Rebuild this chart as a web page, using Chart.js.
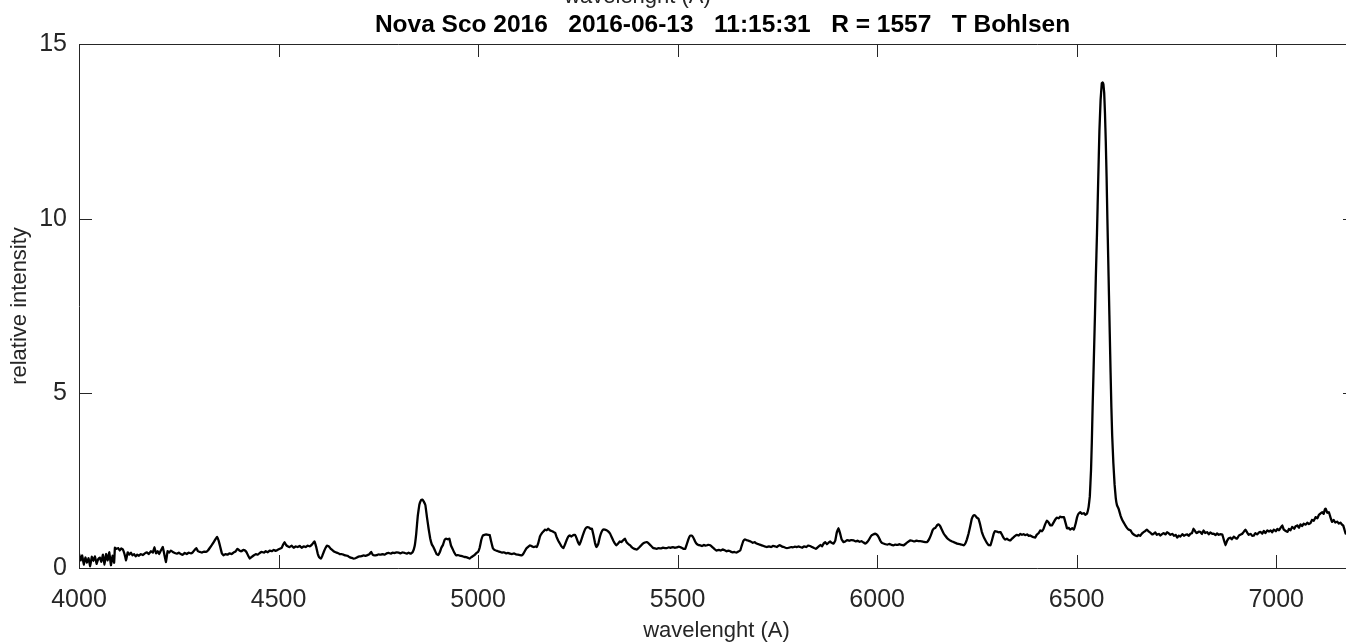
<!DOCTYPE html>
<html lang="en">
<head>
<meta charset="UTF-8">
<title>Nova Sco 2016 spectrum</title>
<script src="https://cdn.jsdelivr.net/npm/chart.js@4"></script>
<style>
  html, body { margin: 0; padding: 0; background: #fff; overflow: hidden; }
  #wrap { position: relative; width: 1346px; height: 643px; overflow: hidden; }
  canvas { position: absolute; left: 0; top: 0; }
</style>
</head>
<body>
<div id="wrap"><canvas id="spectrum" width="1360" height="643"></canvas></div>
<script>
// wavelength in Angstrom, intensity relative to continuum
const wavelength = [
  4000, 4004, 4008, 4012, 4016, 4020, 4024, 4028, 4032, 4036, 4040, 4044, 4048, 4052, 4056, 4060, 4064, 4068, 4072, 4076, 4080, 4084, 4088,
  4090, 4094, 4098, 4102, 4106, 4110, 4114, 4118, 4122, 4126, 4130, 4134, 4138, 4142, 4146, 4150, 4155, 4160, 4165, 4170, 4175, 4180, 4185,
  4189, 4193, 4197, 4201, 4205, 4210, 4214, 4218, 4222, 4226, 4230, 4235, 4240, 4245, 4250, 4255, 4260, 4265, 4270, 4275, 4280, 4285, 4290,
  4294, 4298, 4303, 4308, 4313, 4318, 4323, 4328, 4333, 4338, 4343, 4346, 4350, 4354, 4358, 4362, 4367, 4372, 4377, 4382, 4387, 4392, 4397,
  4402, 4407, 4412, 4416, 4420, 4424, 4428, 4433, 4438, 4443, 4448, 4453, 4458, 4463, 4468, 4473, 4478, 4483, 4488, 4493, 4498, 4503, 4508,
  4512, 4515, 4519, 4523, 4528, 4533, 4538, 4543, 4548, 4553, 4558, 4563, 4568, 4573, 4578, 4583, 4587, 4590, 4594, 4598, 4602, 4606, 4610,
  4614, 4618, 4622, 4626, 4630, 4634, 4638, 4643, 4648, 4653, 4658, 4663, 4668, 4673, 4678, 4683, 4688, 4693, 4698, 4703, 4708, 4713, 4718,
  4723, 4728, 4732, 4736, 4741, 4746, 4751, 4756, 4761, 4766, 4771, 4776, 4781, 4786, 4791, 4796, 4801, 4806, 4811, 4816, 4821, 4826, 4831,
  4836, 4841, 4845, 4849, 4853, 4857, 4860, 4864, 4868, 4872, 4876, 4880, 4884, 4888, 4892, 4896, 4900, 4904, 4908, 4912, 4916, 4920, 4924,
  4928, 4932, 4936, 4940, 4945, 4950, 4955, 4960, 4965, 4970, 4975, 4979, 4983, 4987, 4991, 4995, 5000, 5004, 5008, 5012, 5016, 5020, 5025,
  5029, 5033, 5037, 5041, 5045, 5050, 5055, 5060, 5065, 5070, 5075, 5080, 5085, 5090, 5095, 5100, 5105, 5109, 5113, 5117, 5121, 5125, 5130,
  5135, 5140, 5144, 5147, 5151, 5155, 5160, 5164, 5168, 5172, 5176, 5180, 5184, 5188, 5193, 5197, 5201, 5205, 5209, 5214, 5218, 5222, 5226,
  5230, 5234, 5238, 5243, 5247, 5251, 5254, 5258, 5262, 5266, 5270, 5274, 5278, 5282, 5285, 5289, 5293, 5297, 5301, 5305, 5309, 5313, 5318,
  5322, 5326, 5331, 5335, 5339, 5343, 5347, 5351, 5355, 5359, 5364, 5368, 5372, 5377, 5381, 5385, 5390, 5394, 5398, 5403, 5408, 5413, 5418,
  5423, 5428, 5433, 5438, 5443, 5448, 5453, 5458, 5463, 5468, 5473, 5478, 5483, 5488, 5493, 5498, 5503, 5506, 5510, 5515, 5519, 5523, 5527,
  5531, 5535, 5539, 5543, 5547, 5552, 5556, 5561, 5566, 5571, 5576, 5582, 5587, 5592, 5598, 5603, 5608, 5613, 5618, 5623, 5628, 5633, 5638,
  5642, 5647, 5652, 5657, 5661, 5665, 5669, 5673, 5678, 5683, 5688, 5693, 5698, 5703, 5708, 5713, 5718, 5724, 5729, 5734, 5739, 5744, 5749,
  5753, 5757, 5761, 5766, 5770, 5774, 5779, 5784, 5789, 5794, 5799, 5803, 5807, 5812, 5817, 5822, 5827, 5832, 5837, 5842, 5846, 5850, 5854,
  5858, 5862, 5866, 5870, 5874, 5878, 5882, 5886, 5891, 5895, 5899, 5903, 5907, 5911, 5916, 5920, 5925, 5930, 5935, 5941, 5946, 5951, 5956,
  5961, 5966, 5970, 5975, 5980, 5985, 5990, 5995, 6000, 6004, 6008, 6012, 6016, 6021, 6026, 6031, 6036, 6041, 6046, 6051, 6056, 6061, 6066,
  6070, 6074, 6079, 6083, 6088, 6093, 6098, 6103, 6108, 6112, 6117, 6121, 6125, 6130, 6135, 6139, 6142, 6146, 6150, 6154, 6158, 6162, 6167,
  6171, 6175, 6179, 6183, 6188, 6192, 6196, 6200, 6204, 6208, 6212, 6217, 6221, 6225, 6229, 6233, 6237, 6240, 6242, 6246, 6250, 6254, 6258,
  6262, 6267, 6271, 6275, 6279, 6284, 6288, 6292, 6296, 6300, 6305, 6309, 6313, 6317, 6321, 6325, 6330, 6334, 6338, 6342, 6346, 6350, 6355,
  6359, 6363, 6367, 6372, 6376, 6380, 6384, 6388, 6392, 6396, 6400, 6405, 6409, 6413, 6417, 6421, 6426, 6430, 6434, 6438, 6442, 6446, 6451,
  6455, 6459, 6463, 6468, 6472, 6476, 6480, 6484, 6489, 6493, 6497, 6501, 6505, 6509, 6513, 6518, 6522, 6526, 6530, 6533, 6536, 6538, 6540,
  6542, 6544, 6546, 6548, 6551, 6554, 6557, 6560, 6563, 6565, 6567, 6569, 6571, 6573, 6575, 6577, 6579, 6581, 6583, 6585, 6587, 6589, 6592,
  6595, 6598,
  6601, 6605, 6610, 6614, 6618, 6622, 6626, 6630, 6635, 6639, 6643, 6647, 6651, 6655, 6659, 6663, 6667, 6672, 6676, 6680, 6684, 6689, 6693,
  6697, 6701, 6706, 6710, 6714, 6718, 6723, 6727, 6731, 6735, 6740, 6744, 6748, 6752, 6756, 6760, 6765, 6769, 6773, 6777, 6781, 6785, 6789,
  6793, 6797, 6801, 6806, 6810, 6814, 6818, 6822, 6827, 6831, 6835, 6839, 6844, 6848, 6852, 6856, 6861, 6865, 6869, 6873, 6877, 6881, 6885,
  6889, 6894, 6898, 6902, 6906, 6910, 6915, 6919, 6923, 6927, 6931, 6936, 6940, 6944, 6948, 6952, 6957, 6961, 6965, 6969, 6973, 6978, 6982,
  6986, 6990, 6994, 6999, 7003, 7007, 7011, 7015, 7019, 7024, 7028, 7032, 7036, 7040, 7045, 7049, 7053, 7057, 7061, 7065, 7069, 7074, 7078,
  7082, 7086, 7090, 7094, 7099, 7103, 7107, 7111, 7115, 7119, 7122, 7124, 7128, 7132, 7136, 7140, 7144, 7148, 7153, 7157, 7161, 7165, 7168,
  7171, 7174, 7178, 7182, 7186, 7190, 7195, 7200
];
const intensity = [
  0.41, 0.22, 0.36, 0.10, 0.30, 0.15, 0.28, 0.05, 0.32, 0.20, 0.33, 0.12, 0.25, 0.30, 0.18, 0.38, 0.10, 0.40, 0.22, 0.45, 0.08, 0.35, 0.15,
  0.58, 0.55, 0.57, 0.50, 0.56, 0.53, 0.40, 0.22, 0.45, 0.38, 0.44, 0.36, 0.40, 0.33, 0.38, 0.35, 0.40, 0.37, 0.42, 0.45, 0.40, 0.48, 0.44,
  0.60, 0.42, 0.48, 0.40, 0.50, 0.60, 0.38, 0.17, 0.48, 0.44, 0.50, 0.46, 0.43, 0.41, 0.44, 0.40, 0.38, 0.43, 0.40, 0.44, 0.42, 0.45, 0.52,
  0.57, 0.48, 0.46, 0.44, 0.47, 0.46, 0.50, 0.58, 0.66, 0.75, 0.84, 0.89, 0.78, 0.60, 0.42, 0.36, 0.40, 0.38, 0.42, 0.40, 0.44, 0.47, 0.55,
  0.50, 0.48, 0.52, 0.50, 0.45, 0.35, 0.27, 0.32, 0.36, 0.40, 0.38, 0.43, 0.46, 0.44, 0.48, 0.45, 0.50, 0.48, 0.52, 0.49, 0.52, 0.55, 0.58,
  0.68, 0.74, 0.66, 0.62, 0.60, 0.64, 0.58, 0.62, 0.60, 0.63, 0.58, 0.62, 0.60, 0.64, 0.62, 0.66, 0.72, 0.76, 0.62, 0.42, 0.30, 0.27, 0.36,
  0.48, 0.58, 0.64, 0.62, 0.56, 0.52, 0.48, 0.45, 0.43, 0.40, 0.40, 0.38, 0.36, 0.35, 0.31, 0.29, 0.27, 0.28, 0.31, 0.33, 0.34, 0.36, 0.35,
  0.37, 0.40, 0.46, 0.38, 0.36, 0.37, 0.39, 0.38, 0.40, 0.38, 0.42, 0.43, 0.41, 0.44, 0.43, 0.45, 0.44, 0.42, 0.45, 0.43, 0.41, 0.44, 0.41,
  0.45, 0.62, 0.98, 1.50, 1.82, 1.94, 1.96, 1.90, 1.80, 1.45, 1.13, 0.85, 0.68, 0.60, 0.50, 0.40, 0.37, 0.45, 0.58, 0.66, 0.80, 0.84, 0.82,
  0.84, 0.65, 0.55, 0.45, 0.36, 0.37, 0.35, 0.34, 0.32, 0.31, 0.29, 0.27, 0.31, 0.34, 0.37, 0.42, 0.46, 0.58, 0.80, 0.93, 0.95, 0.96, 0.95,
  0.95, 0.75, 0.57, 0.52, 0.50, 0.48, 0.46, 0.44, 0.45, 0.42, 0.43, 0.41, 0.40, 0.42, 0.39, 0.38, 0.37, 0.36, 0.40, 0.48, 0.56, 0.60, 0.65,
  0.62, 0.60, 0.62, 0.60, 0.72, 0.90, 1.00, 1.05, 1.10, 1.08, 1.13, 1.08, 1.06, 1.04, 1.01, 0.88, 0.78, 0.70, 0.62, 0.57, 0.68, 0.80, 0.90,
  0.93, 0.90, 0.94, 0.95, 0.85, 0.72, 0.67, 0.78, 0.92, 1.05, 1.14, 1.17, 1.16, 1.12, 1.13, 0.95, 0.72, 0.60, 0.68, 0.88, 1.02, 1.10, 1.10,
  1.08, 1.05, 0.98, 0.88, 0.78, 0.70, 0.65, 0.70, 0.76, 0.74, 0.80, 0.84, 0.74, 0.68, 0.65, 0.60, 0.56, 0.54, 0.53, 0.58, 0.64, 0.70, 0.73,
  0.74, 0.70, 0.64, 0.58, 0.56, 0.55, 0.57, 0.56, 0.58, 0.57, 0.57, 0.59, 0.58, 0.60, 0.58, 0.59, 0.61, 0.60, 0.58, 0.55, 0.55, 0.68, 0.82,
  0.92, 0.93, 0.88, 0.78, 0.70, 0.66, 0.65, 0.63, 0.66, 0.64, 0.66, 0.65, 0.60, 0.55, 0.50, 0.52, 0.50, 0.53, 0.51, 0.48, 0.50, 0.47, 0.45,
  0.46, 0.44, 0.47, 0.50, 0.65, 0.78, 0.82, 0.80, 0.78, 0.76, 0.72, 0.74, 0.70, 0.68, 0.66, 0.64, 0.62, 0.60, 0.62, 0.60, 0.63, 0.62, 0.60,
  0.64, 0.65, 0.62, 0.60, 0.58, 0.57, 0.58, 0.60, 0.59, 0.61, 0.60, 0.62, 0.60, 0.58, 0.62, 0.60, 0.64, 0.63, 0.60, 0.57, 0.55, 0.58, 0.62,
  0.66, 0.62, 0.70, 0.74, 0.68, 0.72, 0.76, 0.72, 0.70, 0.78, 1.02, 1.14, 1.00, 0.82, 0.74, 0.76, 0.80, 0.78, 0.80, 0.79, 0.76, 0.78, 0.75,
  0.77, 0.73, 0.70, 0.74, 0.82, 0.92, 0.96, 0.98, 0.95, 0.88, 0.78, 0.72, 0.70, 0.68, 0.67, 0.69, 0.66, 0.65, 0.67, 0.66, 0.68, 0.66, 0.65,
  0.68, 0.72, 0.76, 0.79, 0.78, 0.76, 0.78, 0.77, 0.77, 0.76, 0.75, 0.74, 0.74, 0.82, 0.95, 1.08, 1.13, 1.15, 1.22, 1.25, 1.20, 1.10, 0.98,
  0.92, 0.86, 0.82, 0.79, 0.76, 0.74, 0.72, 0.70, 0.69, 0.68, 0.67, 0.65, 0.70, 0.82, 0.98, 1.18, 1.40, 1.48, 1.51, 1.50, 1.44, 1.41, 1.25,
  1.05, 0.89, 0.80, 0.72, 0.66, 0.65, 0.80, 0.98, 1.06, 1.04, 1.02, 1.03, 0.95, 0.86, 0.81, 0.84, 0.80, 0.79, 0.84, 0.88, 0.92, 0.95, 0.93,
  0.98, 0.95, 0.97, 0.94, 0.96, 0.92, 0.93, 0.90, 0.88, 0.87, 0.95, 1.00, 1.08, 1.05, 1.12, 1.25, 1.36, 1.30, 1.22, 1.22, 1.30, 1.38, 1.44,
  1.42, 1.47, 1.45, 1.46, 1.30, 1.13, 1.15, 1.10, 1.14, 1.10, 1.25, 1.45, 1.56, 1.60, 1.55, 1.57, 1.52, 1.56, 1.75, 2.05, 2.80, 3.60, 4.60,
  5.50, 6.40, 7.30, 8.30, 9.60, 11.10, 12.50, 13.40, 13.88, 13.90, 13.85, 13.60, 13.00, 12.20, 11.20, 10.00, 8.90, 7.80, 6.70, 5.60, 4.60, 3.80, 3.00,
  2.40, 2.00,
  1.80, 1.70, 1.50, 1.38, 1.30, 1.22, 1.15, 1.10, 1.08, 1.00, 0.96, 0.93, 0.91, 0.95, 0.92, 0.98, 1.02, 1.06, 1.10, 1.05, 1.02, 0.96, 0.98,
  1.02, 0.95, 0.98, 0.93, 0.97, 1.00, 0.96, 1.03, 0.99, 0.95, 0.98, 0.92, 0.95, 0.87, 0.93, 0.90, 0.97, 0.92, 0.95, 0.96, 0.92, 0.98, 1.00,
  1.13, 1.05, 1.00, 1.04, 1.03, 0.97, 1.08, 1.00, 1.03, 0.96, 1.02, 0.98, 0.98, 0.94, 0.99, 0.95, 0.97, 0.96, 0.80, 0.65, 0.78, 0.85, 0.87,
  0.82, 0.90, 0.86, 0.84, 0.92, 0.95, 0.98, 1.04, 1.10, 1.02, 0.95, 0.98, 0.92, 0.93, 1.00, 0.96, 1.02, 1.03, 0.98, 1.06, 1.00, 1.08, 1.04,
  1.08, 1.02, 1.10, 1.05, 1.12, 1.08, 1.15, 1.22, 1.10, 1.06, 1.03, 1.12, 1.08, 1.18, 1.12, 1.20, 1.22, 1.15, 1.25, 1.20, 1.27, 1.24, 1.30,
  1.26, 1.29, 1.38, 1.35, 1.46, 1.42, 1.52, 1.56, 1.60, 1.55, 1.68, 1.70, 1.58, 1.60, 1.45, 1.32, 1.38, 1.30, 1.33, 1.27, 1.30, 1.24, 1.22,
  1.10, 0.98, 1.05, 1.10, 1.04, 1.08, 1.02, 1.06
];

const xTicks = [4000, 4500, 5000, 5500, 6000, 6500, 7000];
const yTicks = [0, 5, 10, 15];
const titleText = 'Nova Sco 2016   2016-06-13   11:15:31   R = 1557   T Bohlsen';
const xLabel = 'wavelenght (A)';
const yLabel = 'relative intensity';

const FONT = "'Liberation Sans', Arial, Helvetica, sans-serif";
const AXIS_COLOR = '#262626';
const TICK_LEN = 13;

// box, inward tick marks and the text around the axes
const axesBox = {
  id: 'axesBox',
  afterDraw(chart) {
    const { ctx, chartArea: a, scales: { x, y } } = chart;
    ctx.save();
    ctx.strokeStyle = AXIS_COLOR;
    ctx.lineWidth = 1;
    ctx.beginPath();
    ctx.rect(Math.round(a.left) + 0.5, Math.round(a.top) + 0.5,
             Math.round(a.right - a.left), Math.round(a.bottom - a.top));
    xTicks.forEach(v => {
      const px = Math.round(x.getPixelForValue(v)) + 0.5;
      ctx.moveTo(px, a.bottom); ctx.lineTo(px, a.bottom - TICK_LEN);
      ctx.moveTo(px, a.top); ctx.lineTo(px, a.top + TICK_LEN);
    });
    yTicks.forEach(v => {
      const py = Math.round(y.getPixelForValue(v)) + 0.5;
      ctx.moveTo(a.left, py); ctx.lineTo(a.left + TICK_LEN, py);
      ctx.moveTo(a.right, py); ctx.lineTo(a.right - TICK_LEN, py);
    });
    ctx.stroke();

    const cx = (a.left + a.right) / 2;
    ctx.textAlign = 'center';
    ctx.textBaseline = 'alphabetic';

    // second x label sitting above the title, mostly off the top edge
    ctx.fillStyle = AXIS_COLOR;
    ctx.font = `22px ${FONT}`;
    ctx.fillText(xLabel, cx - 80, 3);

    ctx.fillStyle = '#000';
    ctx.font = `bold 24.5px ${FONT}`;
    ctx.fillText(titleText, cx + 5, 32);

    ctx.fillStyle = AXIS_COLOR;
    ctx.font = `22px ${FONT}`;
    ctx.fillText(xLabel, cx - 1, 637);

    ctx.translate(26, (a.top + a.bottom) / 2);
    ctx.rotate(-Math.PI / 2);
    ctx.fillText(yLabel, 0, 0);
    ctx.restore();
  }
};

const points = wavelength.map((w, i) => ({ x: w, y: intensity[i] }));

new Chart(document.getElementById('spectrum'), {
  type: 'line',
  data: {
    datasets: [{
      data: points,
      borderColor: '#000',
      borderWidth: 2.3,
      borderJoinStyle: 'round',
      borderCapStyle: 'round',
      pointRadius: 0,
      fill: false,
      // a small tension keeps Chart.js off its pixel-merging fast path
      tension: 0.05
    }]
  },
  options: {
    responsive: false,
    animation: false,
    devicePixelRatio: 1,
    layout: { padding: { top: 44, right: 4, left: 0, bottom: 0 } },
    plugins: { legend: { display: false }, tooltip: { enabled: false } },
    scales: {
      x: {
        type: 'linear',
        min: 4000,
        max: 7200,
        grid: { display: false, drawTicks: false },
        border: { display: false },
        afterBuildTicks: s => { s.ticks = xTicks.map(v => ({ value: v })); },
        ticks: {
          font: { family: FONT, size: 25 }, color: AXIS_COLOR, padding: 17,
          maxRotation: 0, autoSkip: false, callback: v => String(v)
        },
        afterFit: s => { s.height = 75; }
      },
      y: {
        type: 'linear',
        min: 0,
        max: 15,
        grid: { display: false, drawTicks: false },
        border: { display: false },
        afterBuildTicks: s => { s.ticks = yTicks.map(v => ({ value: v })); },
        ticks: { font: { family: FONT, size: 25 }, color: AXIS_COLOR, padding: 12, callback: v => String(v) },
        afterFit: s => { s.width = 79; }
      }
    }
  },
  plugins: [axesBox]
});
</script>
</body>
</html>
